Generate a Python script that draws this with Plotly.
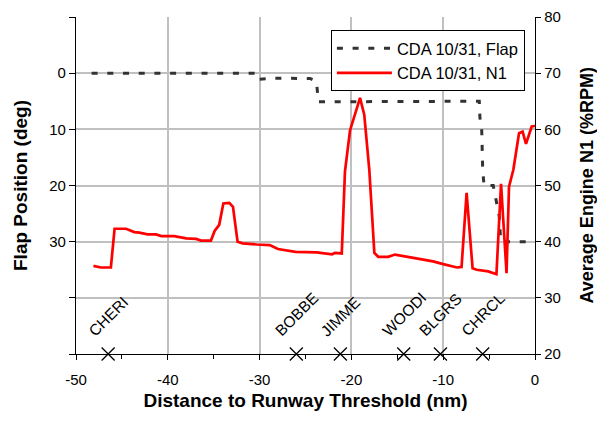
import plotly.graph_objects as go

# Flap position (deg), left axis (reversed)
flap_x = [-48.3, -30.4, -30.2, -28.4, -24.5, -23.8, -23.6, -6.07, -6.0, -5.8, -5.7, -5.55, -4.55, -3.9, -3.73, 0.0]
flap_y = [0, 0, 1.1, 0.9, 0.95, 1.5, 5.1, 5.0, 7.9, 10.3, 17.1, 20.0, 20.0, 25.4, 30.0, 30.0]

# Average engine N1 (%RPM), right axis
n1_x = [-48.1, -47.3, -46.2, -45.8, -44.55, -43.65, -43.1, -42.2, -41.3, -40.7, -39.3, -38.0,
        -36.9, -36.4, -35.3, -34.9, -34.4, -33.95, -33.3, -32.9, -32.4, -31.85, -30.3, -28.9,
        -28.0, -26.1, -23.8, -22.1, -21.8, -21.05, -20.7, -20.15, -19.06, -18.6, -18.05, -17.5,
        -17.07, -16.0, -15.25, -13.6, -12.2, -11.1, -10.0, -8.5, -8.0, -7.45, -6.8, -6.35,
        -5.1, -4.2, -3.7, -3.1, -2.83, -2.36, -1.74, -1.35, -0.98, -0.36, 0.0]
n1_y = [35.7, 35.4, 35.4, 42.3, 42.3, 41.7, 41.6, 41.3, 41.3, 41.0, 41.0, 40.6,
        40.5, 40.2, 40.2, 41.9, 43.0, 46.8, 46.9, 46.2, 40.0, 39.7, 39.5, 39.4,
        38.7, 38.2, 38.1, 37.75, 38.0, 37.9, 52.5, 59.8, 65.6, 62.6, 52.8, 38.0,
        37.3, 37.3, 37.7, 37.2, 36.9, 36.5, 36.0, 35.4, 35.5, 48.7, 35.25, 35.0,
        34.7, 34.2, 50.3, 34.4, 49.8, 52.8, 59.3, 59.6, 57.4, 60.5, 60.6]

# Waypoints
wp_names = ["CHERI", "BOBBE", "JIMME", "WOODI", "BLGRS", "CHRCL"]
wp_x = [-46.5, -26.0, -21.2, -14.3, -10.3, -5.7]

# Axis ticks
x_ticks = [-50, -40, -30, -20, -10, 0]
x_tick_text = ["-50", "-40", "-30", "-20", "-10", "0"]
flap_ticks = [-10, 0, 10, 20, 30, 40, 50]
flap_tick_text = ["", "0", "10", "20", "30", "", ""]
n1_ticks = [20, 30, 40, 50, 60, 70, 80]

FONT = "Arial, Liberation Sans, sans-serif"

fig = go.Figure()
fig.add_trace(go.Scatter(
    x=flap_x, y=flap_y, mode="lines", name="CDA 10/31, Flap", yaxis="y",
    line=dict(color="#333333", width=3, dash="6px,9.7px"),
))
fig.add_trace(go.Scatter(
    x=n1_x, y=n1_y, mode="lines", name="CDA 10/31, N1", yaxis="y2",
    line=dict(color="#ff0000", width=2.7),
))
fig.add_trace(go.Scatter(
    x=wp_x, y=[20] * len(wp_x), mode="markers", yaxis="y2", showlegend=False,
    cliponaxis=False,
    marker=dict(symbol="x-thin", size=13, line=dict(color="black", width=1.3)),
))

for name, x in zip(wp_names, wp_x):
    fig.add_annotation(
        x=x, xref="x", y=0, yref="paper", text=name, showarrow=False,
        textangle=-45, xanchor="center", yanchor="bottom", yshift=12,
        font=dict(family=FONT, size=15.5, color="black"),
    )

# Right axis title, placed as text hugging the right page edge
fig.add_annotation(
    x=1, xref="paper", y=0.5, yref="paper", text="<b>Average Engine N1 (%RPM)</b>",
    showarrow=False, textangle=-90, xanchor="left", yanchor="middle", xshift=39,
    font=dict(family=FONT, size=18, color="black"),
)

fig.update_layout(
    width=597, height=421,
    margin=dict(l=76, r=62, t=17, b=67, autoexpand=False),
    paper_bgcolor="white", plot_bgcolor="white",
    font=dict(family=FONT, size=15, color="black"),
    showlegend=True,
    legend=dict(
        x=0.978, y=0.961, xanchor="right", yanchor="top",
        bgcolor="white", bordercolor="black", borderwidth=1,
        font=dict(family=FONT, size=16.5, color="black"),
        itemwidth=55, tracegroupgap=0,
    ),
    xaxis=dict(
        range=[-50, 0], tickvals=x_ticks, ticktext=x_tick_text, automargin=False,
        ticks="outside", ticklen=5, ticklabelstandoff=7,
        tickcolor="black", showline=True, linecolor="black", linewidth=1.3,
        showgrid=True, gridcolor="#c0c0c0", gridwidth=1.5, zeroline=False,
        minor=dict(tickvals=[-45, -35, -25, -15, -5], ticks="outside", ticklen=4,
                   tickcolor="black", showgrid=False),
        title=dict(text="<b>Distance to Runway Threshold (nm)</b>",
                   font=dict(family=FONT, size=19), standoff=6),
        tickfont=dict(size=15),
    ),
    yaxis=dict(
        range=[50, -10], tickvals=flap_ticks, ticktext=flap_tick_text, automargin=False,
        ticks="outside", ticklen=6, tickcolor="black",
        showline=True, linecolor="black", linewidth=1.3,
        showgrid=True, gridcolor="#c0c0c0", gridwidth=1.5, zeroline=False,
        title=dict(text="<b>Flap Position (deg)</b>",
                   font=dict(family=FONT, size=19), standoff=16),
        tickfont=dict(size=15),
    ),
    yaxis2=dict(
        range=[20, 80], tickvals=n1_ticks, overlaying="y", side="right", automargin=False,
        ticks="outside", ticklen=5, tickcolor="black",
        showline=True, linecolor="black", linewidth=1.3,
        showgrid=False, zeroline=False,
        tickfont=dict(size=15),
    ),
)

fig.write_html("out.html")
